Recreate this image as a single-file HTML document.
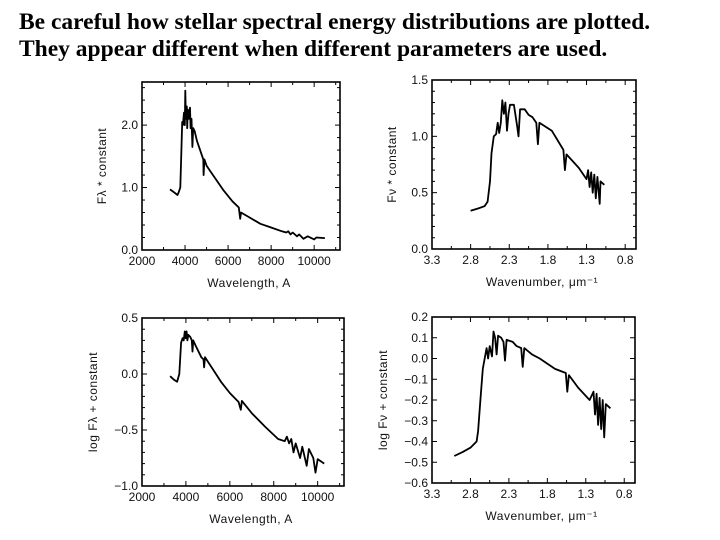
<!DOCTYPE html>
<html><head><meta charset="utf-8">
<style>
body{margin:0;background:#fff;width:720px;height:540px;overflow:hidden}
.title{position:absolute;left:19px;top:9px;font:bold 23.5px/27px "Liberation Serif",serif;color:#000;white-space:nowrap;margin:0}
svg{position:absolute;left:0;top:0}
text{font-family:"Liberation Sans",sans-serif;fill:#111}
</style></head><body>
<div class="title">Be careful how stellar spectral energy distributions are plotted.<br>They appear different when different parameters are used.</div>
<svg id="s" width="720" height="540"></svg>
<script>
// Panel 1: wavelength vs F_lambda
const p1x=[3300,3500,3650,3700,3780,3830,3870,3900,3950,3990,4010,4040,4080,4100,4130,4180,4230,4260,4300,4340,4380,4450,4550,4700,4850,4861,4900,5000,5300,5800,6200,6500,6563,6600,7000,7500,8000,8500,8700,8800,8900,9000,9200,9300,9500,9700,10000,10100,10500];
const p1y=[0.97,0.92,0.88,0.92,1.0,1.6,2.05,2.0,2.2,2.0,2.55,2.1,2.3,1.95,2.25,2.1,2.28,1.95,2.1,1.65,1.95,1.9,1.75,1.6,1.45,1.2,1.45,1.35,1.2,0.95,0.78,0.68,0.5,0.6,0.52,0.42,0.36,0.3,0.28,0.3,0.25,0.28,0.22,0.25,0.18,0.22,0.17,0.2,0.19];
// Panel 2: wavenumber vs F_nu
const p2x=[2.80,2.70,2.62,2.58,2.55,2.53,2.50,2.47,2.45,2.43,2.41,2.39,2.37,2.35,2.33,2.31,2.29,2.24,2.20,2.18,2.16,2.10,2.05,2.0,1.95,1.93,1.91,1.75,1.6,1.58,1.56,1.4,1.30,1.28,1.26,1.24,1.22,1.20,1.18,1.16,1.13,1.12,1.07];
const p2y=[0.34,0.36,0.38,0.42,0.6,0.85,1.0,1.02,1.12,1.03,1.12,1.32,1.2,1.3,1.05,1.2,1.28,1.28,1.1,1.0,1.24,1.24,1.19,1.17,1.12,0.93,1.12,1.05,0.88,0.7,0.84,0.72,0.62,0.7,0.55,0.68,0.5,0.66,0.45,0.64,0.4,0.6,0.57];
// Panel 3: wavelength vs log F_lambda
const p3x=[3280,3450,3600,3700,3780,3850,3900,3950,3990,4030,4070,4110,4200,4270,4300,4330,4450,4700,4800,4830,4870,5200,5600,6000,6400,6500,6550,7000,7600,8200,8500,8600,8700,8800,8900,9000,9200,9300,9500,9600,9800,9900,10000,10300];
const p3y=[-0.02,-0.05,-0.07,0.0,0.28,0.32,0.3,0.38,0.32,0.38,0.3,0.35,0.33,0.3,0.2,0.3,0.25,0.15,0.13,0.06,0.15,0.05,-0.07,-0.17,-0.25,-0.32,-0.24,-0.35,-0.47,-0.58,-0.6,-0.56,-0.62,-0.58,-0.7,-0.62,-0.75,-0.65,-0.82,-0.67,-0.75,-0.88,-0.76,-0.8];
// Panel 4: wavenumber vs log F_nu
const p4x=[3.01,2.9,2.8,2.72,2.70,2.67,2.64,2.62,2.59,2.57,2.55,2.52,2.50,2.48,2.46,2.44,2.40,2.37,2.35,2.33,2.25,2.20,2.14,2.12,2.10,2.0,1.9,1.7,1.56,1.54,1.52,1.4,1.25,1.2,1.18,1.16,1.14,1.12,1.10,1.08,1.06,1.04,0.98];
const p4y=[-0.47,-0.45,-0.43,-0.40,-0.35,-0.2,-0.05,-0.01,0.05,0.0,0.06,0.01,0.13,0.10,0.02,0.11,0.10,0.08,-0.01,0.09,0.08,0.06,0.05,-0.04,0.05,0.02,0.0,-0.05,-0.07,-0.16,-0.08,-0.14,-0.2,-0.16,-0.27,-0.17,-0.32,-0.19,-0.34,-0.2,-0.38,-0.22,-0.24];
const lamTicks=["2000","4000","6000","8000","10000"];
const lamTickVals=[2000,4000,6000,8000,10000];
const wnTicks=["3.3","2.8","2.3","1.8","1.3","0.8"];
const wnTickVals=[3.3,2.8,2.3,1.8,1.3,0.8];
const y1Ticks=["0.0","1.0","2.0"]; const y1Vals=[0,1,2];
const y2Ticks=["0.0","0.5","1.0","1.5"]; const y2Vals=[0,0.5,1,1.5];
const y3Ticks=["\u22121.0","\u22120.5","0.0","0.5"]; const y3Vals=[-1,-0.5,0,0.5];
const y4Ticks=["\u22120.6","\u22120.5","\u22120.4","\u22120.3","\u22120.2","\u22120.1","0.0","0.1","0.2"]; const y4Vals=[-0.6,-0.5,-0.4,-0.3,-0.2,-0.1,0,0.1,0.2];

const NS="http://www.w3.org/2000/svg", svg=document.getElementById('s');
function mk(t,a,p){const e=document.createElementNS(NS,t);for(const k in a)e.setAttribute(k,a[k]);(p||svg).appendChild(e);return e;}
function panel(o){
  const g=mk('g',{});
  
  
  const sx=v=>o.L+(v-o.x0)/(o.x1-o.x0)*(o.R-o.L);
  const sy=v=>o.B-(v-o.y0)/(o.y1-o.y0)*(o.B-o.T);
  const fr=mk('rect',{x:o.L,y:o.T,width:o.R-o.L,height:o.B-o.T,fill:'none',stroke:'#000','stroke-width':1.6},g);
  
  
  o.xv.forEach((v,i)=>{const X=sx(v);
    mk('line',{x1:X,x2:X,y1:o.B,y2:o.B-5,stroke:'#000'},g);mk('line',{x1:X,x2:X,y1:o.T,y2:o.T+5,stroke:'#000'},g);
    const t=mk('text',{x:X,y:o.B+15,'text-anchor':'middle','font-size':12},g);t.textContent=o.xl[i];
    
    
    const m=v+(o.xv[1]-o.xv[0])/2, M=sx(m);
    if(M>o.L&&M<o.R){mk('line',{x1:M,x2:M,y1:o.B,y2:o.B-3,stroke:'#000'},g);mk('line',{x1:M,x2:M,y1:o.T,y2:o.T+3,stroke:'#000'},g);}
  });
  o.yv.forEach((v,i)=>{const Y=sy(v);
    mk('line',{x1:o.L,x2:o.L+5,y1:Y,y2:Y,stroke:'#000'},g);mk('line',{x1:o.R,x2:o.R-5,y1:Y,y2:Y,stroke:'#000'},g);
    const t=mk('text',{x:o.L-4,y:Y+4,'text-anchor':'end','font-size':12},g);t.textContent=o.yl[i];
    
    
    for(let k=1;k<o.ym;k++){const mv=v+k*(o.yv[1]-o.yv[0])/o.ym, MY=sy(mv);
      if(MY>o.T+1&&MY<o.B-1){mk('line',{x1:o.L,x2:o.L+3,y1:MY,y2:MY,stroke:'#000'},g);mk('line',{x1:o.R,x2:o.R-3,y1:MY,y2:MY,stroke:'#000'},g);}}
  });
  const xt=mk('text',{x:(o.L+o.R)/2+8,y:o.B+37,'text-anchor':'middle','font-size':12,'letter-spacing':'0.5'},g);xt.textContent=o.xt;
  
  
  const yx=o.L-o.yoff, yy=(o.T+o.B)/2;
  const yt=mk('text',{x:yx,y:yy,'text-anchor':'middle','font-size':12,'letter-spacing':'0.5',transform:`rotate(-90 ${yx} ${yy})`},g);yt.textContent=o.yt;
  
  
  const d=o.px.map((v,i)=>(i?'L':'M')+sx(v).toFixed(1)+' '+sy(o.py[i]).toFixed(1)).join(' ');
  const p=mk('path',{d:d,fill:'none',stroke:'#000','stroke-width':1.8,'stroke-linejoin':'round'},g);
  
  
}
panel({name:'panel-flambda',L:142,R:340,T:82,B:250,x0:2000,x1:11200,y0:0,y1:2.69,xv:lamTickVals,xl:lamTicks,yv:y1Vals,yl:y1Ticks,ym:5,px:p1x,py:p1y,xt:'Wavelength, A',yt:'F\u03bb * constant',yoff:36});
panel({name:'panel-fnu',L:432,R:636,T:80,B:249,x0:3.3,x1:0.66,y0:0,y1:1.5,xv:wnTickVals,xl:wnTicks,yv:y2Vals,yl:y2Ticks,ym:5,px:p2x,py:p2y,xt:'Wavenumber, \u03bcm\u207b\u00b9',yt:'F\u03bd * constant',yoff:36});
panel({name:'panel-log-flambda',L:142,R:344,T:318,B:486,x0:2000,x1:11200,y0:-1,y1:0.5,xv:lamTickVals,xl:lamTicks,yv:y3Vals,yl:y3Ticks,ym:5,px:p3x,py:p3y,xt:'Wavelength, A',yt:'log F\u03bb + constant',yoff:45});
panel({name:'panel-log-fnu',L:432,R:635,T:317,B:483,x0:3.3,x1:0.66,y0:-0.6,y1:0.2,xv:wnTickVals,xl:wnTicks,yv:y4Vals,yl:y4Ticks,ym:1,px:p4x,py:p4y,xt:'Wavenumber, \u03bcm\u207b\u00b9',yt:'log F\u03bd + constant',yoff:45});
</script>
</body></html>
